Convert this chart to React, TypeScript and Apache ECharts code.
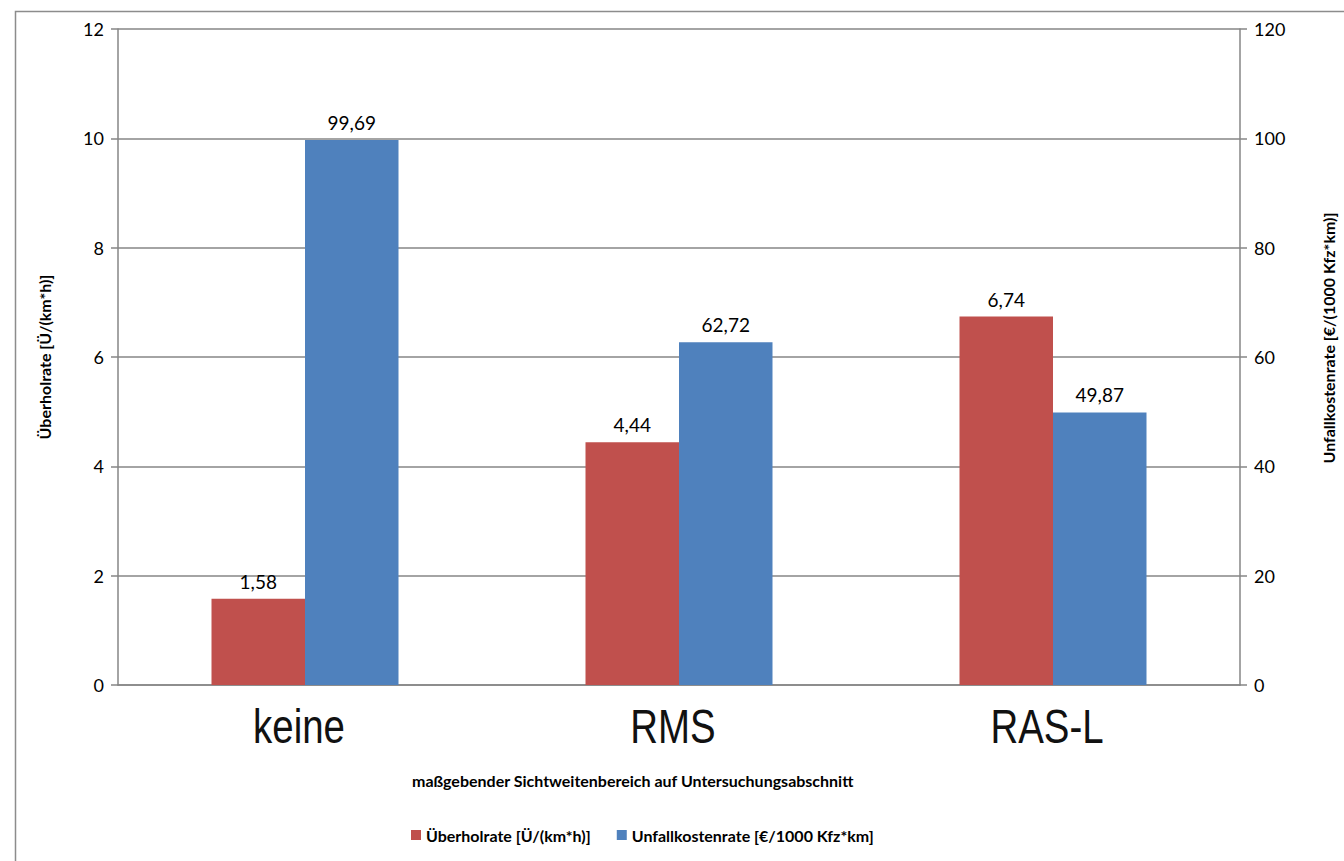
import React, { useEffect, useRef } from "react";
import * as echarts from "echarts";

const categories = ["keine", "RMS", "RAS-L"];
const ueberholrate = [1.58, 4.44, 6.74];
const unfallkostenrate = [99.69, 62.72, 49.87];
const seriesNames = ["Überholrate [Ü/(km*h)]", "Unfallkostenrate [€/1000 Kfz*km]"];
const leftAxisName = "Überholrate [Ü/(km*h)]";
const rightAxisName = "Unfallkostenrate [€/(1000 Kfz*km)]";
const xAxisName = "maßgebender Sichtweitenbereich auf Untersuchungsabschnitt";

const FONT = "Lato, 'Open Sans', sans-serif";
const AXIS_GREY = "#868686";

const fmt = (v: number) => v.toFixed(2).replace(".", ",");

export default function App() {
  const ref = useRef<HTMLDivElement>(null);

  useEffect(() => {
    document.body.style.margin = "0";
    const chart = echarts.init(ref.current!, null, { renderer: "svg" });
    const barLabel = {
      show: true,
      position: "top",
      distance: 8,
      fontSize: 19,
      color: "#000",
      formatter: (p: any) => fmt(p.value),
    };
    chart.setOption({
      animation: false,
      backgroundColor: "#ffffff",
      textStyle: { fontFamily: FONT },
      grid: { left: 118, right: 103, top: 29, bottom: 176 },
      legend: {
        left: 406,
        top: 822,
        icon: "rect",
        itemWidth: 10,
        itemHeight: 10,
        itemGap: 26,
        textStyle: { fontSize: 16, fontWeight: "bold", color: "#000", fontFamily: FONT },
        data: seriesNames,
      },
      xAxis: {
        type: "category",
        data: categories,
        axisLine: { lineStyle: { color: AXIS_GREY, width: 1.5 } },
        axisTick: { show: false },
        axisLabel: { show: false },
      },
      yAxis: [
        {
          type: "value",
          min: 0,
          max: 12,
          interval: 2,
          position: "left",
          name: leftAxisName,
          nameLocation: "middle",
          nameRotate: 90,
          nameGap: 66,
          nameTextStyle: { fontSize: 16, fontWeight: "bold", color: "#000" },
          axisLine: { show: true, lineStyle: { color: AXIS_GREY, width: 1.5 } },
          axisTick: { show: true, length: 7, lineStyle: { color: AXIS_GREY, width: 1.5 } },
          axisLabel: { fontSize: 18, color: "#000", margin: 14 },
          splitLine: { lineStyle: { color: AXIS_GREY, width: 1.5 } },
        },
        {
          type: "value",
          min: 0,
          max: 120,
          interval: 20,
          position: "right",
          name: rightAxisName,
          nameLocation: "middle",
          nameRotate: 90,
          nameGap: 80,
          nameTextStyle: {
            fontSize: 16,
            fontWeight: "bold",
            color: "#000",
            padding: [0, 0, 0, 38],
          },
          axisLine: { show: true, lineStyle: { color: AXIS_GREY, width: 1.5 } },
          axisTick: { show: true, length: 7, lineStyle: { color: AXIS_GREY, width: 1.5 } },
          axisLabel: { fontSize: 18, color: "#000", margin: 14 },
          splitLine: { show: false },
        },
      ],
      series: [
        {
          name: seriesNames[0],
          type: "bar",
          yAxisIndex: 0,
          data: ueberholrate,
          barGap: "0%",
          barCategoryGap: "50%",
          itemStyle: { color: "#C0504D" },
          label: barLabel,
        },
        {
          name: seriesNames[1],
          type: "bar",
          yAxisIndex: 1,
          data: unfallkostenrate,
          barGap: "0%",
          barCategoryGap: "50%",
          itemStyle: { color: "#4F81BD" },
          label: barLabel,
        },
      ],
    });

    // Large condensed category labels, placed at the category positions of the x axis
    const catLabels = categories.map((c, i) => {
      const x = chart.convertToPixel({ xAxisIndex: 0 }, i) as number;
      return {
        type: "text",
        x: x - 6,
        y: 726,
        scaleX: 0.8,
        silent: true,
        style: {
          text: c,
          x: 0,
          y: 0,
          align: "center",
          verticalAlign: "middle",
          font: "48px 'Liberation Sans', Arial, sans-serif",
          fill: "#111",
        },
      };
    });

    chart.setOption({
      graphic: [
        {
          type: "rect",
          left: 13,
          top: 9,
          shape: { width: 1400, height: 900 },
          style: { fill: "none", stroke: "#8c8c8c", lineWidth: 1.5 },
          silent: true,
          z: -1,
        },
        {
          type: "text",
          left: 412,
          top: 772,
          silent: true,
          style: {
            text: xAxisName,
            font: `bold 16px ${FONT}`,
            fill: "#000",
          },
        },
        ...catLabels,
      ],
    });
    return () => chart.dispose();
  }, []);

  return <div ref={ref} style={{ width: 1344, height: 861 }} />;
}
